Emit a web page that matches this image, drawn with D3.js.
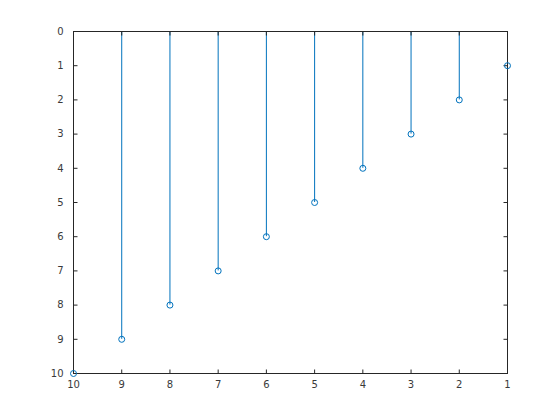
<!DOCTYPE html>
<html>
<head>
<meta charset="utf-8">
<script src="https://cdn.jsdelivr.net/npm/d3@7"></script>
<style>
  body { margin: 0; background: #fff; }
  text { font-family: "DejaVu Sans", sans-serif; font-size: 10px; fill: #262626; }
</style>
</head>
<body>
<script>
//stem data
var xVals = [1, 2, 3, 4, 5, 6, 7, 8, 9, 10];
var yVals = [1, 2, 3, 4, 5, 6, 7, 8, 9, 10];
var xTicks = [10, 9, 8, 7, 6, 5, 4, 3, 2, 1];
var yTicks = [0, 1, 2, 3, 4, 5, 6, 7, 8, 9, 10];

var width = 560, height = 420;
//plot box edges (note: "top" is reserved on window, so use a margin object)
var box = {left: 73, right: 507, top: 31, bottom: 373};

var svg = d3.select("body").append("svg")
    .attr("width", width)
    .attr("height", height);

//reversed axes
var x = d3.scaleLinear().domain([10, 1]).range([box.left, box.right]);
var y = d3.scaleLinear().domain([0, 10]).range([box.top, box.bottom]);

var axisColor = "#262626";
var textColor = "#3a3a3a";
var tickLen = 4;

//stems
svg.selectAll(".stem")
    .data(xVals)
    .enter()
    .append("line")
    .attr("class", "stem")
    .attr("x1", function(d){ return x(d) + 0.5; })
    .attr("x2", function(d){ return x(d) + 0.5; })
    .attr("y1", y(0))
    .attr("y2", function(d, i){ return y(yVals[i]); })
    .style("stroke", "#0072BD")
    .style("stroke-width", 1);

//box
svg.append("rect")
    .attr("x", box.left + 0.5)
    .attr("y", box.top + 0.5)
    .attr("width", box.right - box.left)
    .attr("height", box.bottom - box.top)
    .style("fill", "none")
    .style("stroke", axisColor)
    .style("stroke-width", 1);

//bottom axis
var xAxis = svg.append("g")
    .attr("transform", "translate(0," + (box.bottom + 0.5) + ")")
    .call(d3.axisBottom(x).tickValues(xTicks).tickSize(-tickLen).tickPadding(7).tickFormat(d3.format("d")));
//top ticks
var xAxisTop = svg.append("g")
    .attr("transform", "translate(0," + (box.top + 0.5) + ")")
    .call(d3.axisTop(x).tickValues(xTicks).tickSize(-tickLen).tickFormat(""));
//left axis
var yAxis = svg.append("g")
    .attr("transform", "translate(" + (box.left + 0.5) + ",0)")
    .call(d3.axisLeft(y).tickValues(yTicks).tickSize(-tickLen).tickPadding(10).tickFormat(d3.format("d")));
//right ticks
var yAxisRight = svg.append("g")
    .attr("transform", "translate(" + (box.right + 0.5) + ",0)")
    .call(d3.axisRight(y).tickValues(yTicks).tickSize(-tickLen).tickFormat(""));

[xAxis, xAxisTop, yAxis, yAxisRight].forEach(function(g){
    g.select(".domain").remove();
    g.selectAll("line").style("stroke", axisColor);
    g.selectAll("text").style("fill", textColor).attr("font-size", 10)
        .attr("font-family", "DejaVu Sans, sans-serif");
});

//markers
svg.selectAll(".marker")
    .data(xVals)
    .enter()
    .append("circle")
    .attr("class", "marker")
    .attr("cx", function(d){ return x(d) + 0.5; })
    .attr("cy", function(d, i){ return y(yVals[i]) + 0.5; })
    .attr("r", 3)
    .style("fill", "none")
    .style("stroke", "#0072BD")
    .style("stroke-width", 1);
</script>
</body>
</html>
